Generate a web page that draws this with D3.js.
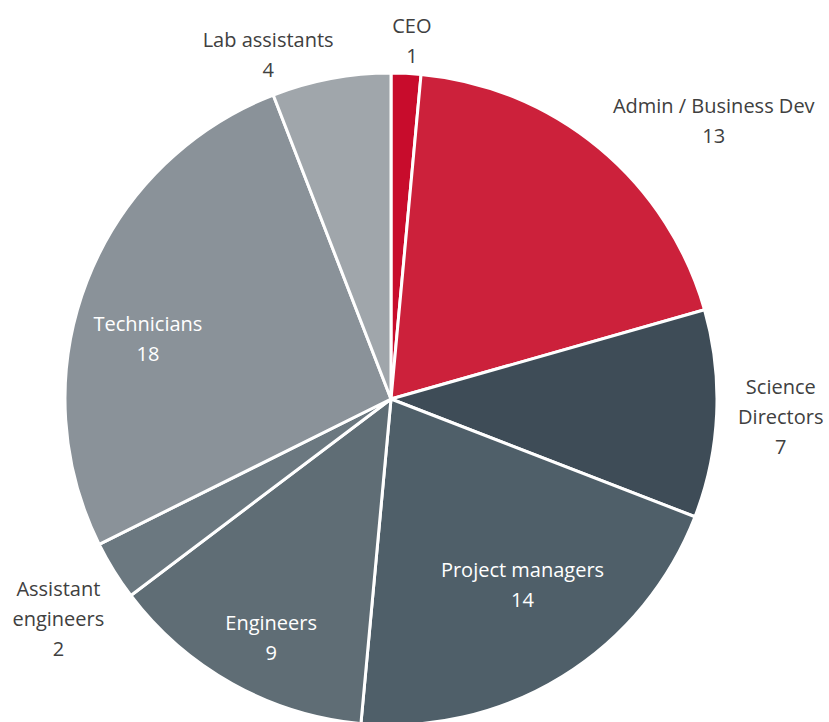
<!DOCTYPE html>
<html>
<head>
<meta charset="utf-8">
<script src="https://cdn.jsdelivr.net/npm/d3@7"></script>
<style>
  body { margin: 0; background: #fff; }
  svg text { font-family: "Open Sans", "Liberation Sans", sans-serif; fill: #404040; }
</style>
</head>
<body>
<div id="chart"></div>
<script>
// staff by role
var roles = ["CEO", "Admin / Business Dev", "Science Directors", "Project managers",
             "Engineers", "Assistant engineers", "Technicians", "Lab assistants"];
var counts = [1, 13, 7, 14, 9, 2, 18, 4];
var colors = ["#c80c2c", "#cc213b", "#3e4c57", "#4f5f69", "#5f6d75", "#6b7880", "#8a9299", "#a0a6ab"];

// label lines (Excel wraps some names)
var labelLines = {
    "Science Directors": ["Science", "Directors"],
    "Assistant engineers": ["Assistant", "engineers"]
};
// label placement: [angle in degrees clockwise from top, distance / radius]
var labelPos = {
    "CEO": [3.5, 1.10],
    "Admin / Business Dev": [49.3, 1.31],
    "Science Directors": [92.6, 1.20],
    "Project managers": [144.5, 0.70],
    "Engineers": [206.4, 0.82],
    "Assistant engineers": [236.5, 1.22],
    "Technicians": [283.9, 0.765],
    "Lab assistants": [340.5, 1.12]
};

var width = 829, height = 722;
var cx = 391, cy = 399, radius = 326;

var svg = d3.select("#chart")
    .append("svg")
    .attr("width", width)
    .attr("height", height);

var g = svg.append("g")
    .attr("transform", "translate(" + cx + "," + cy + ")");

var data = roles.map(function (r, i) { return { role: r, value: counts[i], color: colors[i] }; });

var pie = d3.pie()
    .sort(null)
    .value(function (d) { return d.value; });

var arc = d3.arc()
    .innerRadius(0)
    .outerRadius(radius);

g.selectAll("path.slice")
    .data(pie(data))
    .enter()
    .append("path")
    .attr("class", "slice")
    .attr("d", arc)
    .attr("fill", function (d) { return d.data.color; })
    .attr("stroke", "#fff")
    .attr("stroke-width", 3)
    .attr("stroke-linejoin", "round");

var lineH = 30;
var labels = g.selectAll("text.lbl")
    .data(pie(data))
    .enter()
    .append("text")
    .attr("class", "lbl")
    .attr("text-anchor", "middle")
    .style("font-size", "20px")
    .each(function (d) {
        var p = labelPos[d.data.role];
        var a = p[0] * Math.PI / 180;
        var r = p[1] * radius;
        var x = r * Math.sin(a) - 1, y = -r * Math.cos(a);
        var lines = (labelLines[d.data.role] || [d.data.role]).concat([String(d.data.value)]);
        var t = d3.select(this);
        var y0 = y - (lines.length - 1) * lineH / 2;
        var fillCol = p[1] < 1 ? "#ffffff" : "#404040";
        lines.forEach(function (s, i) {
            t.append("tspan")
                .attr("x", x)
                .attr("y", y0 + i * lineH)
                .attr("dy", "0.35em")
                .style("fill", fillCol)
                .text(s);
        });
    });
</script>
</body>
</html>
